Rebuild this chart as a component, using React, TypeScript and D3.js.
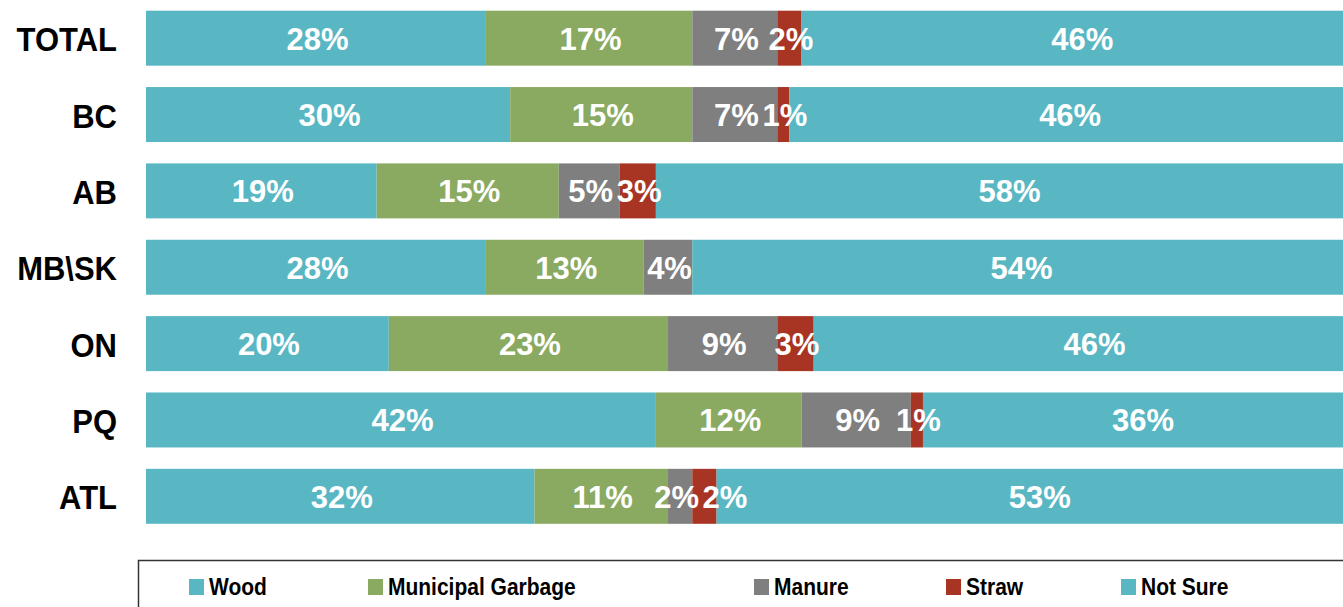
import React from "react";
import * as d3 from "d3";

const categories = ["TOTAL", "BC", "AB", "MB\\SK", "ON", "PQ", "ATL"];
const seriesNames = ["Wood", "Municipal Garbage", "Manure", "Straw", "Not Sure"];
const wood = [28, 30, 19, 28, 20, 42, 32];
const municipalGarbage = [17, 15, 15, 13, 23, 12, 11];
const manure = [7, 7, 5, 4, 9, 9, 2];
const straw = [2, 1, 3, 0, 3, 1, 2];
const notSure = [46, 46, 58, 54, 46, 36, 53];
const colors = ["#59B7C4", "#8AAA61", "#7F7F7F", "#A83424", "#59B7C4"];

const W = 1343;
const H = 607;
const FONT = "'Liberation Sans', Arial, Helvetica, sans-serif";
const legendX = [189, 368, 754, 946, 1121];
// label nudges (px) keyed by "category|series" to avoid overlapping labels
const labelNudge: Record<string, number> = {
  "ATL|Manure": -5,
  "ATL|Straw": 19,
};

export default function App() {
  const seriesValues = [wood, municipalGarbage, manure, straw, notSure];
  const rows = categories.map((c, i) => {
    const r: any = { cat: c };
    seriesNames.forEach((s, k) => (r[s] = seriesValues[k][i]));
    return r;
  });
  const stacked = d3.stack<any>().keys(seriesNames)(rows);

  const x = d3.scaleLinear().domain([0, 100]).range([146, 1360]);
  const y = d3
    .scaleBand<string>()
    .domain(categories)
    .range([0, 534.5])
    .paddingInner(0.28)
    .paddingOuter(0.14);
  const bw = y.bandwidth();

  return (
    <svg
      width={W}
      height={H}
      style={{ position: "absolute", left: 0, top: 0, overflow: "hidden" }}
      fontFamily={FONT}
    >
      <rect x={0} y={0} width={W} height={H} fill="#fff" />
      {stacked.map((layer, k) => (
        <g key={layer.key}>
          {layer.map((d, i) => {
            const w = x(d[1]) - x(d[0]);
            if (w <= 0) return null;
            return (
              <rect
                key={i}
                x={x(d[0])}
                y={y(categories[i])!}
                width={w}
                height={bw}
                fill={colors[k]}
              />
            );
          })}
        </g>
      ))}
      {stacked.map((layer) => (
        <g key={"l" + layer.key}>
          {layer.map((d, i) => {
            const v = d[1] - d[0];
            if (v <= 0) return null;
            const nudge = labelNudge[categories[i] + "|" + layer.key] || 0;
            const cx = (x(d[0]) + x(d[1])) / 2 + 1.5 + nudge;
            const cy = y(categories[i])! + bw / 2;
            return (
              <text
                key={i}
                transform={`translate(${cx}, ${cy + 11.5}) scale(1, 1.04)`}
                textAnchor="middle"
                fill="#fff"
                fontWeight="bold"
                fontSize={31}
              >
                {v + "%"}
              </text>
            );
          })}
        </g>
      ))}
      {categories.map((c) => (
        <text
          key={c}
          transform={`translate(117, ${y(c)! + bw / 2 + 13}) scale(1, 1.1)`}
          textAnchor="end"
          fill="#000"
          fontWeight="bold"
          fontSize={31}
        >
          {c}
        </text>
      ))}
      <rect x={138.5} y={560.5} width={1300} height={100} fill="none" stroke="#333" strokeWidth={1.5} />
      {seriesNames.map((s, k) => (
        <g key={"lg" + s}>
          <rect x={legendX[k]} y={579} width={15} height={16} fill={colors[k]} />
          <text
            transform={`translate(${legendX[k] + 20}, 595) scale(1, 1.12)`}
            fill="#000"
            fontWeight="bold"
            fontSize={21}
          >
            {s}
          </text>
        </g>
      ))}
    </svg>
  );
}
